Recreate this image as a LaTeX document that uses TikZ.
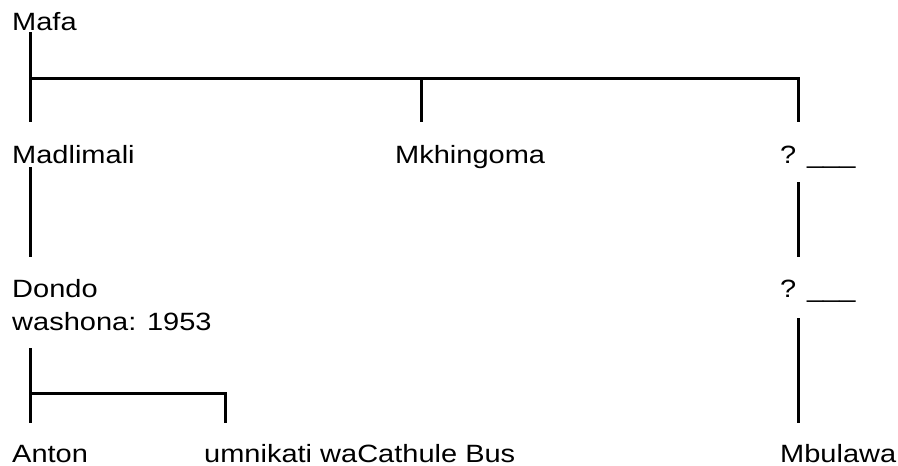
\documentclass[tikz,border=0pt]{standalone}
\usepackage{fontspec}
\setmainfont{Liberation Sans}[FakeStretch=1.16]

\begin{document}
\begin{tikzpicture}[x=1pt,y=-1pt,
  person/.style={anchor=base west, inner sep=0pt, align=left,
    font=\fontsize{25}{33}\selectfont},
  branch/.style={line width=3pt}]
\useasboundingbox (0,0) rectangle (898,466);
% names
\node[person] (mafa) at (12,30) {Mafa};
\node[person] (madlimali) at (12,163) {Madlimali};
\node[person] (mkhingoma) at (395,163) {Mkhingoma};
\node[person] (unknownA) at (780,163) {? \_\_\_};
\node[person] (dondo) at (12,330) {Dondo\\washona: 1953};
\node[person] (unknownB) at (780,297) {? \_\_\_};
\node[person] (anton) at (12,462) {Anton};
\node[person] (umnikati) at (204,462) {umnikati waCathule Bus};
\node[person] (mbulawa) at (780,462) {Mbulawa};
% line ends
\coordinate (mafa-s) at (30,32);
\coordinate (madlimali-n) at (30,122);
\coordinate (mkhingoma-n) at (421,122);
\coordinate (unknownA-n) at (798,122);
\coordinate (madlimali-s) at (30,167);
\coordinate (dondo-n) at (30,257);
\coordinate (unknownA-s) at (798,182);
\coordinate (unknownB-n) at (798,257);
\coordinate (dondo-s) at (30,348);
\coordinate (anton-n) at (30,423);
\coordinate (umnikati-n) at (225,423);
\coordinate (unknownB-s) at (798,318);
\coordinate (mbulawa-n) at (798,423);
% tree
\draw[branch] (mafa-s) -- (madlimali-n);
\draw[branch] (mafa-s |- 0,78) -- (unknownA-n |- 0,78) -- (unknownA-n);
\draw[branch] (mkhingoma-n |- 0,78) -- (mkhingoma-n);
\draw[branch] (madlimali-s) -- (dondo-n);
\draw[branch] (unknownA-s) -- (unknownB-n);
\draw[branch] (dondo-s) -- (anton-n);
\draw[branch] (dondo-s |- 0,393) -- (umnikati-n |- 0,393) -- (umnikati-n);
\draw[branch] (unknownB-s) -- (mbulawa-n);
\end{tikzpicture}
\end{document}
